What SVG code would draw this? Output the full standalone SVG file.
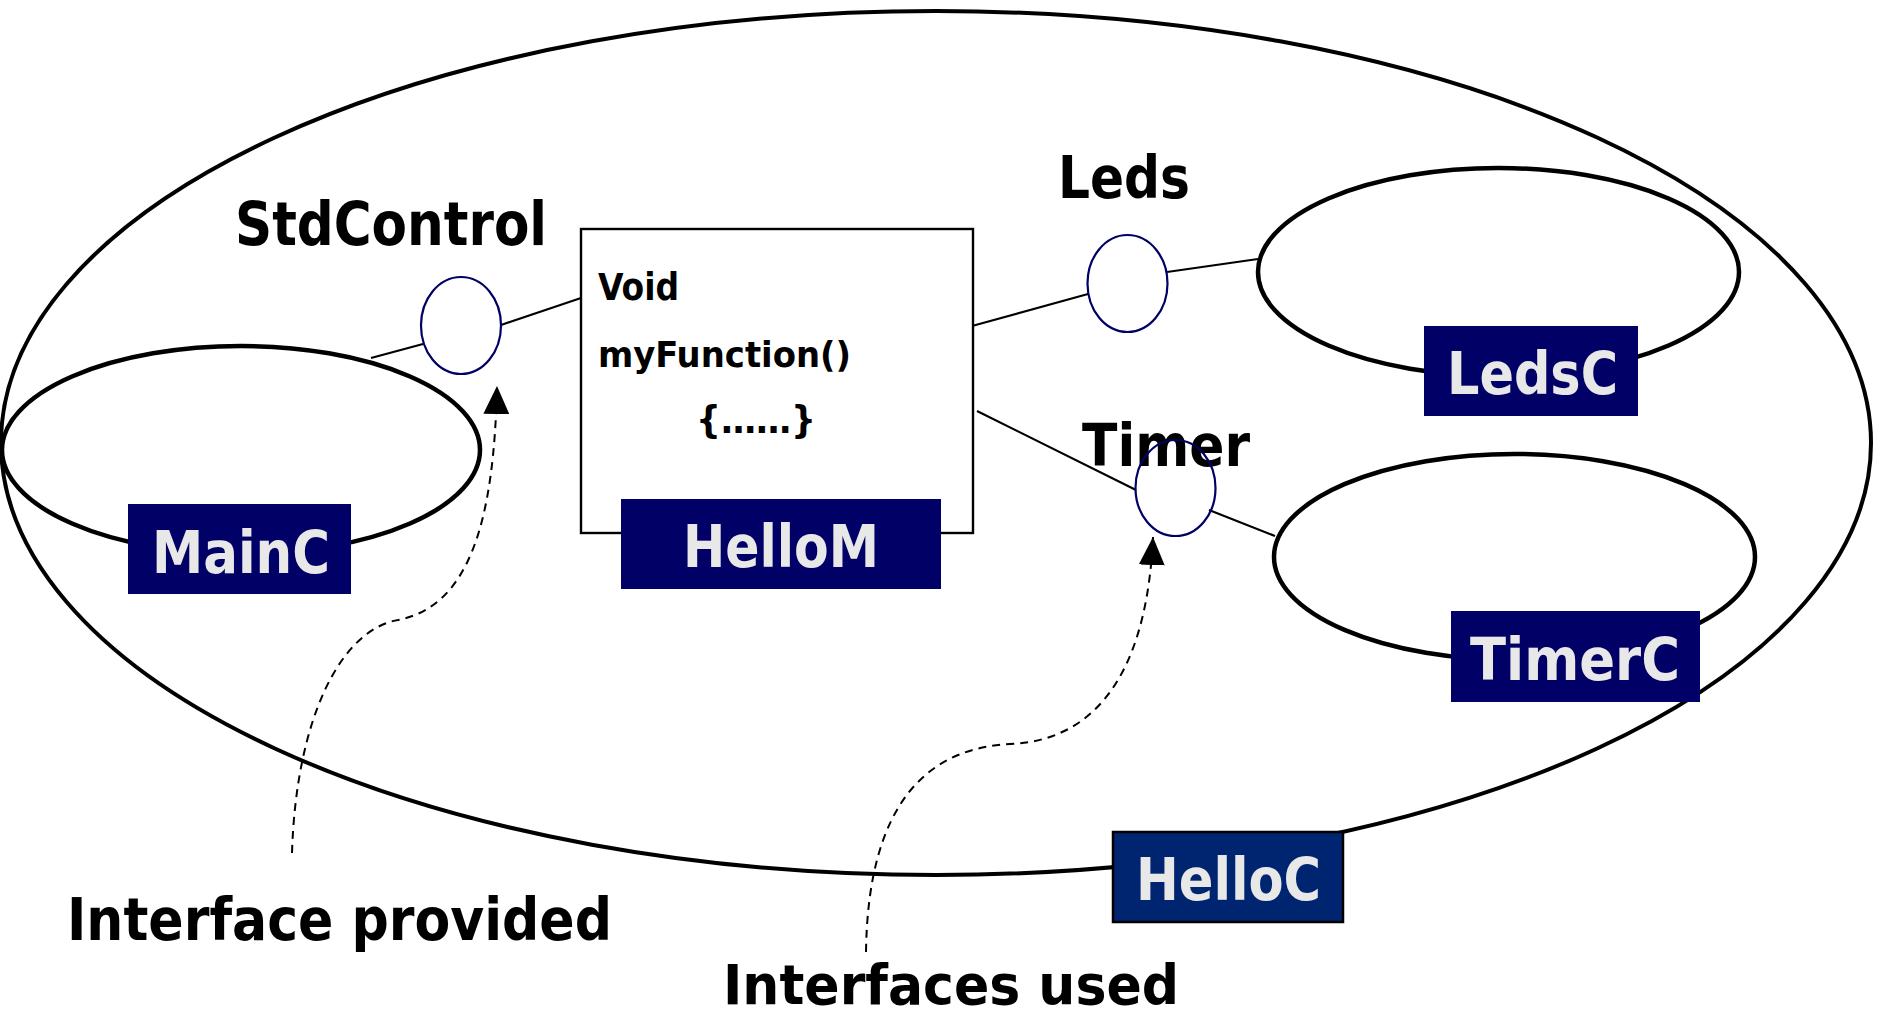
<svg xmlns="http://www.w3.org/2000/svg" width="1878" height="1016" viewBox="0 0 1878 1016">
<defs>
<style>
.big{fill:none;stroke:#000;stroke-width:4}
.comp{fill:none;stroke:#000;stroke-width:4.5}
.ifc{fill:none;stroke:#000066;stroke-width:2.2}
.wire{stroke:#000;stroke-width:2.2;fill:none}
.dash{stroke:#000;stroke-width:2;fill:none;stroke-dasharray:8 6}
.lbl{fill:#000066}
.lt{fill:#e8e8e8;font-family:"DejaVu Sans Condensed","DejaVu Sans",sans-serif;font-weight:bold;font-size:58px}
.bt{fill:#000;font-family:"DejaVu Sans Condensed","DejaVu Sans",sans-serif;font-weight:bold}
</style>
<marker id="arr" viewBox="0 0 28 26" refX="28" refY="13" markerWidth="28" markerHeight="26" markerUnits="userSpaceOnUse" orient="auto">
<path d="M0,0 L28,13 L0,26 z" fill="#000"/>
</marker>
</defs>
<rect width="1878" height="1016" fill="#fff"/>

<g id="HelloC">
<ellipse class="big" cx="936" cy="443" rx="935" ry="432"/>
<rect x="1113" y="832" width="230" height="90" fill="#002570" stroke="#000" stroke-width="2.5"/>
<text class="lt" x="1136" y="900" textLength="185" lengthAdjust="spacingAndGlyphs">HelloC</text>
</g>

<g id="MainC">
<ellipse class="comp" cx="241" cy="450" rx="239" ry="104"/>
<rect class="lbl" x="128" y="504" width="223" height="90"/>
<text class="lt" x="152" y="573" textLength="178" lengthAdjust="spacingAndGlyphs" font-size="60">MainC</text>
</g>

<g id="LedsC">
<ellipse class="comp" cx="1498.5" cy="272" rx="240.5" ry="104"/>
<rect class="lbl" x="1424" y="326" width="214" height="90"/>
<text class="lt" x="1447" y="394" textLength="171" lengthAdjust="spacingAndGlyphs">LedsC</text>
</g>

<g id="TimerC">
<ellipse class="comp" cx="1514.5" cy="557" rx="240.5" ry="103"/>
<rect class="lbl" x="1451" y="611" width="249" height="91"/>
<text class="lt" x="1470" y="680" textLength="210" lengthAdjust="spacingAndGlyphs">TimerC</text>
</g>

<g id="connectors">
<line class="wire" x1="371" y1="358" x2="423" y2="344"/>
<line class="wire" x1="501" y1="325" x2="584" y2="297"/>
<line class="wire" x1="972" y1="326" x2="1088" y2="294"/>
<line class="wire" x1="1167" y1="272" x2="1258" y2="259"/>
<line class="wire" x1="977" y1="411" x2="1136" y2="490"/>
<line class="wire" x1="1209" y1="510" x2="1275" y2="536"/>
<path class="dash" d="M292,853 C296,720 340,630 398,620 C470,606 494,520 497,386" marker-end="url(#arr)"/>
<path class="dash" d="M866,952 C868,800 930,748 1010,744 C1110,740 1148,650 1153,537" marker-end="url(#arr)"/>
</g>

<g id="HelloM">
<rect x="581" y="229" width="392" height="304" fill="#fff" stroke="#000" stroke-width="2.4"/>
<text class="bt" x="598" y="300" font-size="37" textLength="81" lengthAdjust="spacingAndGlyphs">Void</text>
<text class="bt" x="598" y="367" font-size="36" textLength="253" lengthAdjust="spacingAndGlyphs">myFunction()</text>
<text class="bt" x="696" y="433" font-size="37" textLength="120" lengthAdjust="spacingAndGlyphs">{……}</text>
<rect class="lbl" x="621" y="499" width="320" height="90"/>
<text class="lt" x="683" y="567" textLength="196" lengthAdjust="spacingAndGlyphs">HelloM</text>
</g>

<g id="StdControl">
<text class="bt" x="235" y="245" font-size="60" textLength="312" lengthAdjust="spacingAndGlyphs">StdControl</text>
<ellipse class="ifc" cx="461" cy="325.5" rx="40" ry="48.5"/>
</g>

<g id="Leds">
<text class="bt" x="1058" y="198" font-size="58" textLength="132" lengthAdjust="spacingAndGlyphs">Leds</text>
<ellipse class="ifc" cx="1127.5" cy="283.5" rx="40" ry="48.5"/>
</g>

<g id="Timer">
<text class="bt" x="1082" y="466" font-size="58" textLength="168" lengthAdjust="spacingAndGlyphs">Timer</text>
<ellipse class="ifc" cx="1175.5" cy="488" rx="40" ry="48"/>
</g>

<g id="notes">
<text class="bt" x="67" y="940" font-size="58" textLength="545" lengthAdjust="spacingAndGlyphs">Interface provided</text>
<text class="bt" x="723" y="1004" font-size="56" textLength="456" lengthAdjust="spacingAndGlyphs">Interfaces used</text>
</g>
</svg>
